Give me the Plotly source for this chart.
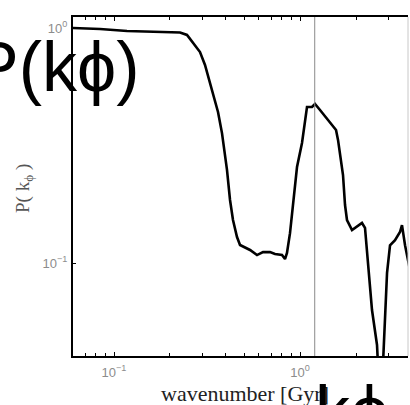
import plotly.graph_objects as go

# ---- data ----
k = [0.0602, 0.0841, 0.1175, 0.156, 0.2075, 0.2264, 0.2469, 0.266, 0.290, 0.3085,
     0.3406, 0.3624, 0.3807, 0.405, 0.4205, 0.4363, 0.4585, 0.4759, 0.5386, 0.5873,
     0.6324, 0.690, 0.7338, 0.8003, 0.8306, 0.8511, 0.8835, 0.917, 0.9636, 1.025,
     1.0905, 1.16, 1.204, 1.281, 1.414, 1.562, 1.601, 1.703, 1.746, 1.789,
     1.904, 2.154, 2.236, 2.438, 2.594, 2.66, 2.76, 2.937, 3.047, 3.242,
     3.448, 3.534, 3.67, 3.90]
P = [1.0, 0.99, 0.971, 0.966, 0.961, 0.957, 0.934, 0.863, 0.790, 0.696,
     0.529, 0.439, 0.357, 0.249, 0.1854, 0.1524, 0.129, 0.1193, 0.1136, 0.1081,
     0.1113, 0.1113, 0.1092, 0.1081, 0.104, 0.1103, 0.134, 0.1765, 0.256, 0.324,
     0.461, 0.461, 0.475, 0.448, 0.406, 0.368, 0.334, 0.2368, 0.1765, 0.1524,
     0.138, 0.148, 0.141, 0.0631, 0.0448, 0.03, 0.03, 0.0907, 0.119, 0.125,
     0.1355, 0.145, 0.119, 0.0934]
k_ref = 1.2

x_tickvals = [0.1, 1]
x_ticktext = ["10<sup>\u22121</sup>", "10<sup>0</sup>"]
x_minor = [0.07, 0.08, 0.09, 0.2, 0.3, 0.4, 0.5, 0.6, 0.7, 0.8, 0.9, 2, 3]
y_tickvals = [0.1, 1]
y_ticktext = ["10<sup>\u22121</sup>", "10<sup>0</sup>"]

x_title = "wavenumber [Gyr]"
y_title = "P( k<sub>\u03d5</sub> )"
big_top = "P(k\u03d5)"
big_bottom = "k\u03d5"

# ---- figure ----
W, H = 410, 405
ML, MR, MT, MB = 73, 2, 17, 49
pw = W - ML - MR
ph = H - MT - MB


def px_x(px):
    return (px - ML) / pw


def px_y(py):
    return (H - MB - py) / ph


tick_font = dict(family="Liberation Sans, Arial, sans-serif", size=13, color="#8c8c8c")

fig = go.Figure()
fig.add_trace(go.Scatter(x=k, y=P, mode="lines",
                         line=dict(color="black", width=2.6),
                         showlegend=False, hoverinfo="skip"))

fig.add_shape(type="line", xref="x", yref="paper",
              x0=k_ref, x1=k_ref, y0=0, y1=1,
              line=dict(color="#8a8a8a", width=1))
fig.add_shape(type="line", xref="paper", yref="paper", x0=1, x1=1, y0=0, y1=1,
              line=dict(color="#c8c8c8", width=1))

fig.update_layout(
    width=W, height=H,
    margin=dict(l=ML, r=MR, t=MT, b=MB, pad=0),
    paper_bgcolor="white", plot_bgcolor="white",
    showlegend=False,
    xaxis=dict(type="log", range=[-1.2204, 0.5806],
               showline=True, linecolor="black", linewidth=2, mirror="ticks",
               ticks="inside", ticklen=4, tickwidth=1, tickcolor="black",
               tickvals=x_tickvals, ticktext=x_ticktext, tickfont=tick_font,
               ticklabelstandoff=3,
               showgrid=False, zeroline=False,
               minor=dict(ticks="inside", ticklen=3, tickwidth=1, tickcolor="black",
                          tickvals=x_minor, showgrid=False)),
    yaxis=dict(type="log", range=[-1.3957, 0.0468],
               showline=True, linecolor="black", linewidth=2, mirror=False,
               ticks="inside", ticklen=3, tickwidth=1, tickcolor="black",
               tickvals=y_tickvals, ticktext=y_ticktext, tickfont=tick_font,
               ticklabelstandoff=1,
               showgrid=False, zeroline=False),
)

fig.add_annotation(text=x_title, xref="paper", yref="paper",
                   x=px_x(245), y=px_y(393), xanchor="center", yanchor="middle",
                   showarrow=False,
                   font=dict(family="Liberation Serif, Times New Roman, serif", size=22, color="#222222"))
fig.add_annotation(text=y_title, xref="paper", yref="paper",
                   x=px_x(24), y=px_y(188), xanchor="center", yanchor="middle",
                   textangle=-90, showarrow=False,
                   font=dict(family="Liberation Serif, Times New Roman, serif", size=19, color="#555555"))
fig.add_annotation(text=big_top, xref="paper", yref="paper",
                   x=px_x(-30), y=px_y(26), xanchor="left", yanchor="top",
                   showarrow=False,
                   font=dict(family="Liberation Sans, Arial, sans-serif", size=70, color="black"))
fig.add_annotation(text=big_bottom, xref="paper", yref="paper",
                   x=px_x(313), y=px_y(370), xanchor="left", yanchor="top",
                   showarrow=False,
                   font=dict(family="Liberation Sans, Arial, sans-serif", size=70, color="black"))

fig.write_html("out.html",
               config={"displayModeBar": False, "staticPlot": True},
               post_script="document.body.style.margin='0';")
